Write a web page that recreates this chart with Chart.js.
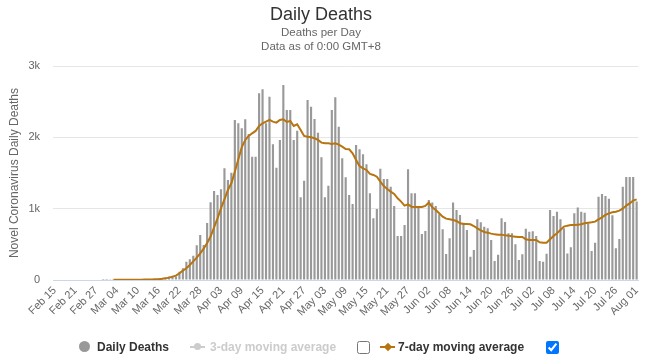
<!DOCTYPE html>
<html><head><meta charset="utf-8">
<script src="https://cdn.jsdelivr.net/npm/chart.js@4.4.1/dist/chart.umd.min.js"></script>
<style>
html,body{margin:0;padding:0;background:#fff;}
#wrap{position:relative;width:650px;height:357px;font-family:"Liberation Sans",Arial,sans-serif;overflow:hidden;}
canvas{position:absolute;left:0;top:0;}
.lg{position:absolute;top:340px;font-size:12px;font-weight:bold;color:#333;line-height:14px;white-space:nowrap;}
.mk{position:absolute;}
input.cb{position:absolute;margin:0;width:13px;height:13px;}
</style></head>
<body><div id="wrap"><canvas id="c" width="650" height="357"></canvas>
<span class="mk" style="left:79px;top:341px;width:11px;height:11px;border-radius:50%;background:#999;"></span>
<span class="lg" style="left:97px;">Daily Deaths</span>
<span class="mk" style="left:190px;top:346px;width:15px;height:2px;background:#ccc;"></span>
<span class="mk" style="left:194px;top:343px;width:7px;height:7px;border-radius:50%;background:#ccc;"></span>
<span class="lg" style="left:210px;color:#ccc;">3-day moving average</span>
<input class="cb" type="checkbox" style="left:357px;top:341px;">
<span class="mk" style="left:380px;top:346px;width:15px;height:2px;background:#b7740f;"></span>
<span class="mk" style="left:384.5px;top:343.5px;width:6px;height:6px;background:#b7740f;transform:rotate(45deg);"></span>
<span class="lg" style="left:398px;">7-day moving average</span>
<input class="cb" type="checkbox" checked style="left:546px;top:341px;">
</div>
<script>
// Daily deaths, one value per day
const deathsFeb = [0,0,0,0,0,0,0,0,0,0,0,0,0,0,1]; // Feb 15 - Feb 29
const deathsMar = [1,5,1,4,1,2,3,4,4,5,8,7,11,10,12,18,23,35,50,50,48,117,164,257,290,341,486,631,491,800,1090];
const deathsApr = [1248,1192,1271,1566,1402,1505,2244,2197,2127,2253,2047,1729,1729,2618,2674,2197,2571,1903,1575,1963,2735,2384,2384,1963,2094,1159,1393,2524,2431,2258];
const deathsMay = [2066,1720,1159,1323,2384,2562,2150,1706,1440,1192,1066,1893,1833,1762,1622,1216,865,996,1561,1417,1417,1309,1038,617,617,771,1552,1216,1216,1028,645];
const deathsJun = [687,1122,1085,1038,921,711,365,584,1085,982,912,804,701,327,421,851,809,748,725,561,266,355,865,813,655,655,500,280,360,720];
const deathsJul = [678,683,617,266,257,369,982,898,958,851,725,370,460,935,1015,958,944,795,407,524,1169,1206,1178,1141,907,444,575,1309,1445,1445,1445];
const deathsAug = [1099];

// 7-day moving average
const avgFeb = [null,null,null,null,null,null,null,null,null,null,null,null,null,null,null];
const avgMar = [null,null,2,2,3,3,3,3,4,4,5,6,7,8,10,12,16,23,33,47,61,94,131,164,210,262,313,374,440,520,610];
const avgApr = [739,865,1005,1131,1262,1356,1519,1692,1861,1964,2020,2057,2090,2160,2197,2221,2244,2221,2207,2244,2253,2216,2230,2160,2183,2104,2020,2010,2001,1987];
const avgMay = [1964,1926,1917,1917,1907,1917,1898,1870,1837,1833,1777,1683,1599,1566,1543,1487,1473,1449,1379,1318,1276,1239,1206,1145,1099,1043,1061,1028,1024,1024,1024];
const avgJun = [1038,1085,1019,982,935,888,860,851,842,827,795,785,785,781,757,725,697,673,664,650,640,636,636,626,622,612,608,603,603,570];
const avgJul = [561,561,561,528,524,524,570,617,655,701,748,762,771,771,776,781,795,804,809,818,851,879,912,935,949,958,972,1000,1043,1075,1113];
const avgAug = [1131];

const tickLabels = ['Feb 15','Feb 21','Feb 27','Mar 04','Mar 10','Mar 16','Mar 22','Mar 28','Apr 03','Apr 09','Apr 15','Apr 21','Apr 27','May 03','May 09','May 15','May 21','May 27','Jun 02','Jun 08','Jun 14','Jun 20','Jun 26','Jul 02','Jul 08','Jul 14','Jul 20','Jul 26','Aug 01'];
const yTicks = [0,1000,2000,3000];

const dailyDeaths = [].concat(deathsFeb,deathsMar,deathsApr,deathsMay,deathsJun,deathsJul,deathsAug);
const avg7 = [].concat(avgFeb,avgMar,avgApr,avgMay,avgJun,avgJul,avgAug);

const monthNames = ['Feb','Mar','Apr','May','Jun','Jul','Aug'];
const monthDays = [deathsFeb.length,deathsMar.length,deathsApr.length,deathsMay.length,deathsJun.length,deathsJul.length,deathsAug.length];
const monthStart = [15,1,1,1,1,1,1];
const categories = [];
monthNames.forEach((m,k)=>{ for(let d=0; d<monthDays[k]; d++){ categories.push(m+' '+String(monthStart[k]+d).padStart(2,'0')); } });

const FONT = '"Liberation Sans", Arial, sans-serif';
new Chart(document.getElementById('c'), {
  type: 'bar',
  data: {
    labels: categories,
    datasets: [
      { type:'line', label:'7-day moving average', data: avg7, borderColor:'#b7740f', backgroundColor:'#b7740f', borderWidth:2, pointRadius:0, tension:0, order:0, spanGaps:false },
      { type:'bar', label:'Daily Deaths', data: dailyDeaths, backgroundColor:'#999999', barPercentage:0.62, categoryPercentage:1.0, order:1 }
    ]
  },
  options: {
    responsive:false, animation:false, devicePixelRatio:1,
    layout:{ padding:{ left:0, right:8, top:0, bottom:0 } },
    plugins:{
      legend:{ display:false }, tooltip:{ enabled:false },
      title:{ display:true, text:'Daily Deaths', color:'#333', font:{ family:FONT, size:18, weight:'normal', lineHeight:1.2 }, padding:{ top:4, bottom:1 } },
      subtitle:{ display:true, text:['Deaths per Day','Data as of 0:00 GMT+8'], color:'#666', font:{ family:FONT, size:11.5, weight:'normal', lineHeight:1.15 }, padding:{ top:0, bottom:13 } }
    },
    scales:{
      x:{
        grid:{ display:false, drawTicks:false },
        border:{ display:true, color:'#ccd6eb', width:1 },
        ticks:{ autoSkip:false, maxRotation:45, minRotation:45, color:'#666', font:{ family:FONT, size:11 }, padding:4,
          callback:function(v,i){ const l = categories[i]; return tickLabels.includes(l) ? l : ''; } },
        afterFit:function(s){ s.height = 77; }
      },
      y:{
        min:0, max:3000,
        afterBuildTicks:function(s){ s.ticks = yTicks.map(v=>({value:v})); },
        grid:{ color:'#e6e6e6', lineWidth:1, drawTicks:false },
        border:{ display:false },
        ticks:{ color:'#666', font:{ family:FONT, size:11 }, padding:13, callback:function(v){ return v===0 ? '0' : (v/1000)+'k'; } },
        title:{ display:true, text:'Novel Coronavirus Daily Deaths', color:'#666', font:{ family:FONT, size:12 }, padding:{ top:7, bottom:0 } },
        afterFit:function(s){ s.width = 53; }
      }
    }
  }
});
</script>
</body></html>
